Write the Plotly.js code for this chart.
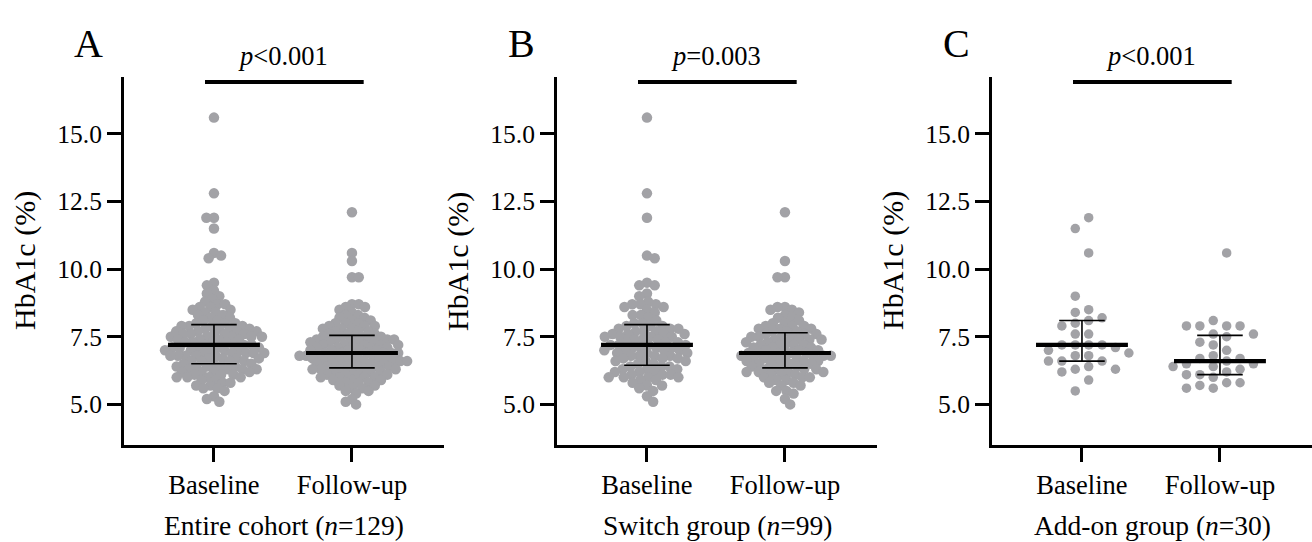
<!DOCTYPE html>
<html><head><meta charset="utf-8">
<script src="https://cdn.plot.ly/plotly-3.0.1.min.js"></script>
<style>html,body{margin:0;padding:0;background:#fff}#chart{width:1312px;height:542px}</style>
</head><body><div id="chart"></div>
<script>
// ---------- data ----------
const categories = ['Baseline', 'Follow-up'];
const panelLetters = ['A', 'B', 'C'];
const pLabels = ['<i>p</i>&lt;0.001', '<i>p</i>=0.003', '<i>p</i>&lt;0.001'];
const groupLabels = ['Entire cohort (<i>n</i>=129)', 'Switch group (<i>n</i>=99)', 'Add-on group (<i>n</i>=30)'];
const yTitle = 'HbA1c (%)';
const yTickVals = [5, 7.5, 10, 12.5, 15];
const yTickText = ['5.0', '7.5', '10.0', '12.5', '15.0'];

const aBaseline = [15.6, 12.8, 11.9, 11.9, 11.5, 10.6, 10.5, 10.4, 9.5, 9.4, 9.2, 9.1, 9.0, 8.9, 8.8, 8.7, 8.7, 8.6, 8.6, 8.5, 8.5, 8.4, 8.4, 8.3, 8.3, 8.2, 8.2, 8.1, 8.1, 8.0, 8.0, 8.0,
  7.9, 7.9, 7.9, 7.9, 7.8, 7.8, 7.8, 7.8, 7.7, 7.7, 7.7, 7.7, 7.6, 7.6, 7.6, 7.6, 7.6, 7.5, 7.5, 7.5, 7.5, 7.5, 7.4, 7.4, 7.4, 7.4, 7.3, 7.3, 7.3, 7.3, 7.2, 7.2,
  7.2, 7.2, 7.1, 7.1, 7.1, 7.1, 7.1, 7.0, 7.0, 7.0, 7.0, 7.0, 6.9, 6.9, 6.9, 6.9, 6.9, 6.8, 6.8, 6.8, 6.8, 6.8, 6.7, 6.7, 6.7, 6.7, 6.6, 6.6, 6.6, 6.6, 6.5, 6.5, 6.5,
  6.4, 6.4, 6.4, 6.4, 6.4, 6.3, 6.3, 6.3, 6.3, 6.2, 6.2, 6.2, 6.2, 6.1, 6.1, 6.1, 6.0, 6.0, 6.0, 6.0, 5.9, 5.9, 5.8, 5.8, 5.7, 5.7, 5.6, 5.6, 5.5, 5.3, 5.2, 5.1];
const aFollowup = [12.1, 10.6, 10.3, 9.7, 9.7,
  8.7, 8.7, 8.6, 8.6, 8.5, 8.4, 8.3, 8.3, 8.2, 8.2, 8.1, 8.1, 8.0, 8.0, 8.0, 7.9, 7.9, 7.9, 7.8, 7.8, 7.8, 7.7, 7.7, 7.7, 7.6, 7.6, 7.6,
  7.5, 7.5, 7.5, 7.5, 7.5, 7.4, 7.4, 7.4, 7.4, 7.4, 7.3, 7.3, 7.3, 7.3, 7.3, 7.2, 7.2, 7.2, 7.2, 7.2, 7.1, 7.1, 7.1, 7.1, 7.1, 7.0, 7.0, 7.0, 7.0, 7.0, 6.9, 6.9,
  6.9, 6.9, 6.9, 6.9, 6.8, 6.8, 6.8, 6.8, 6.8, 6.8, 6.7, 6.7, 6.7, 6.7, 6.7, 6.7, 6.6, 6.6, 6.6, 6.6, 6.6, 6.6, 6.5, 6.5, 6.5, 6.5, 6.5, 6.4, 6.4, 6.4, 6.4, 6.4,
  6.3, 6.3, 6.3, 6.3, 6.3, 6.2, 6.2, 6.2, 6.2, 6.1, 6.1, 6.1, 6.1, 6.0, 6.0, 6.0, 6.0, 5.9, 5.9, 5.9, 5.8, 5.8, 5.8, 5.7, 5.7, 5.6, 5.6, 5.5, 5.5, 5.4, 5.2, 5.1, 5.0];
const bBaseline = [15.6, 12.8, 11.9, 10.5, 10.4, 9.5, 9.4, 9.4, 9.1, 9.0,
  8.8, 8.7, 8.7, 8.7, 8.6, 8.6, 8.5, 8.4, 8.3, 8.3, 8.2, 8.1, 8.0, 8.0,
  7.9, 7.9, 7.9, 7.8, 7.8, 7.8, 7.7, 7.7, 7.7, 7.6, 7.6, 7.6, 7.6, 7.5, 7.5, 7.5, 7.5, 7.4, 7.4, 7.4, 7.3, 7.3, 7.3, 7.2, 7.2,
  7.2, 7.2, 7.1, 7.1, 7.1, 7.1, 7.0, 7.0, 7.0, 7.0, 6.9, 6.9, 6.9, 6.8, 6.8, 6.8, 6.8, 6.7, 6.7, 6.7, 6.6, 6.6, 6.6, 6.5, 6.5,
  6.4, 6.4, 6.4, 6.3, 6.3, 6.3, 6.2, 6.2, 6.2, 6.1, 6.1, 6.1, 6.0, 6.0, 6.0, 6.0, 5.9, 5.9, 5.8, 5.7, 5.7, 5.6, 5.5, 5.3, 5.1];
const bFollowup = [12.1, 10.3, 9.7, 9.7,
  8.6, 8.6, 8.5, 8.5, 8.4, 8.3, 8.2, 8.2, 8.1, 8.0, 8.0, 7.9, 7.9, 7.9, 7.8, 7.8, 7.8, 7.7, 7.7, 7.7,
  7.6, 7.6, 7.6, 7.5, 7.5, 7.5, 7.5, 7.4, 7.4, 7.4, 7.4, 7.3, 7.3, 7.3, 7.2, 7.2, 7.2, 7.2, 7.1, 7.1, 7.1, 7.0, 7.0, 7.0, 7.0,
  6.9, 6.9, 6.9, 6.9, 6.9, 6.8, 6.8, 6.8, 6.8, 6.8, 6.7, 6.7, 6.7, 6.7, 6.6, 6.6, 6.6, 6.6, 6.5, 6.5, 6.5, 6.5, 6.4, 6.4, 6.4,
  6.3, 6.3, 6.3, 6.3, 6.2, 6.2, 6.2, 6.2, 6.1, 6.1, 6.1, 6.0, 6.0, 6.0, 5.9, 5.9, 5.8, 5.8, 5.7, 5.7, 5.5, 5.5, 5.4, 5.2, 5.0];
const cBaseline = [11.9, 11.5, 10.6, 9.0, 8.5, 8.4, 8.2, 8.1, 8.0, 7.9, 7.6, 7.6, 7.2, 7.2, 7.2, 7.2, 7.1, 7.0, 6.9, 6.8, 6.8, 6.6, 6.6, 6.6, 6.4, 6.3, 6.3, 6.2, 5.9, 5.5];
const cFollowup = [10.6, 8.1, 7.9, 7.9, 7.9, 7.9, 7.6, 7.6, 7.5, 7.3, 7.2, 7.0, 6.8, 6.7, 6.7, 6.6, 6.5, 6.5, 6.4, 6.4, 6.3, 6.2, 6.1, 6.1, 6.0, 5.8, 5.8, 5.7, 5.6, 5.6];

const medians = [[7.2, 6.9], [7.2, 6.9], [7.2, 6.6]];
const q1s = [[6.5, 6.35], [6.45, 6.35], [6.6, 6.1]];
const q3s = [[7.95, 7.55], [7.95, 7.65], [8.1, 7.55]];

const panelData = [[aBaseline, aFollowup], [bBaseline, bFollowup], [cBaseline, cFollowup]];

// ---------- layout constants ----------
const W = 1312, H = 542;
const axisLeft = [124, 557, 992];
const panelW = 320;
const plotTop = 77, plotBottom = 445;
const xRange = [-0.652, 1.667];
const yRange = [3.5, 17.1];
const pxY = (plotBottom - plotTop) / (yRange[1] - yRange[0]);
const pxX = panelW / (xRange[1] - xRange[0]);
const swarmD = [[7.6, 6.8], [8.2, 7.5], [9.5, 9.5]];
const swarmSlot = [0, 0, 13.4];
const dotSize = [10.5, 10.5, 9.5];
const dotColor = '#a2a2a6';
const FONT = '"Liberation Serif", "DejaVu Serif", serif';

function swarm(values, D, slot) {
  const n = values.length;
  const order = values.map((v, i) => i).sort((a, b) => values[b] - values[a]);
  const xs = new Array(n).fill(0);
  const placed = [];
  let flip = 1;
  for (const i of order) {
    const y = values[i] * pxY;
    const near = placed.filter(p => Math.abs(p.y - y) < D);
    let cands = [];
    if (slot > 0) {
      for (let k = 0; k < 40; k++) { cands.push((k + 0.5) * slot * flip, -(k + 0.5) * slot * flip); }
    } else {
      cands.push(0);
      near.forEach(p => { const dx = Math.sqrt(D * D - (p.y - y) ** 2); cands.push(p.x + dx, p.x - dx); });
      cands.sort((a, b) => (Math.abs(a) - Math.abs(b)) || (b - a) * flip);
    }
    let best = 0;
    for (const c of cands) {
      if (near.every(p => (p.x - c) ** 2 + (p.y - y) ** 2 >= D * D - 1e-6)) { best = c; break; }
    }
    placed.push({ x: best, y: y });
    xs[i] = best / pxX;
    flip = -flip;
  }
  return xs;
}

const traces = [];
const layout = {
  width: W, height: H, margin: { l: 0, r: 0, t: 0, b: 0 },
  paper_bgcolor: '#fff', plot_bgcolor: 'rgba(0,0,0,0)', showlegend: false,
  font: { family: FONT, color: '#000' },
  annotations: [], shapes: []
};
const yDomain = [1 - plotBottom / H, 1 - plotTop / H];

for (let p = 0; p < 3; p++) {
  const sfx = p === 0 ? '' : String(p + 1);
  const xa = 'x' + sfx, ya = 'y' + sfx;
  const x0 = axisLeft[p] / W, x1 = (axisLeft[p] + panelW) / W;
  layout['xaxis' + sfx] = {
    domain: [x0, x1], range: xRange, anchor: ya, type: 'linear',
    tickvals: [0, 1], ticktext: categories, ticks: 'outside', ticklen: 14, tickwidth: 3, tickcolor: '#000',
    showline: true, linewidth: 3, linecolor: '#000', showgrid: false, zeroline: false, fixedrange: true,
    tickfont: { family: FONT, size: 26.5, color: '#000' }
  };
  layout['yaxis' + sfx] = {
    domain: yDomain, range: yRange, anchor: xa,
    tickvals: yTickVals, ticktext: yTickText, ticks: 'outside', ticklen: 14, tickwidth: 3, tickcolor: '#000',
    showline: true, linewidth: 3, linecolor: '#000', showgrid: false, zeroline: false, fixedrange: true,
    tickfont: { family: FONT, size: 25.5, color: '#000' }
  };
  for (let g = 0; g < 2; g++) {
    const vals = panelData[p][g];
    const offs = swarm(vals, swarmD[p][g], swarmSlot[p]);
    traces.push({
      type: 'scatter', mode: 'markers', xaxis: xa, yaxis: ya,
      x: vals.map((v, i) => g + offs[i]), y: vals,
      marker: { color: dotColor, size: dotSize[p], line: { width: 0 } }, hoverinfo: 'y'
    });
  }
  const mx = [], my = [], ex = [], ey = [];
  for (let g = 0; g < 2; g++) {
    mx.push(g - 0.333, g + 0.333, null); my.push(medians[p][g], medians[p][g], null);
    ex.push(g, g, null, g - 0.165, g + 0.165, null, g - 0.165, g + 0.165, null);
    ey.push(q1s[p][g], q3s[p][g], null, q3s[p][g], q3s[p][g], null, q1s[p][g], q1s[p][g], null);
  }
  traces.push({ type: 'scatter', mode: 'lines', xaxis: xa, yaxis: ya, x: ex, y: ey, line: { color: '#000', width: 1.6 }, hoverinfo: 'skip' });
  traces.push({ type: 'scatter', mode: 'lines', xaxis: xa, yaxis: ya, x: mx, y: my, line: { color: '#000', width: 4.2 }, hoverinfo: 'skip' });

  const toPx = v => axisLeft[p] + (v - xRange[0]) * pxX;
  const cx = toPx(0.5);
  layout.annotations.push(
    { text: panelLetters[p], x: (axisLeft[p] - 36) / W, y: 1 - 43 / H, xref: 'paper', yref: 'paper', showarrow: false, xanchor: 'center', yanchor: 'middle', font: { family: FONT, size: 40, color: '#000' } },
    { text: pLabels[p], x: cx / W, y: 1 - 56 / H, xref: 'paper', yref: 'paper', showarrow: false, xanchor: 'center', yanchor: 'middle', font: { family: FONT, size: 26.5, color: '#000' } },
    { text: groupLabels[p], x: (axisLeft[p] + panelW / 2) / W, y: 1 - 525 / H, xref: 'paper', yref: 'paper', showarrow: false, xanchor: 'center', yanchor: 'middle', font: { family: FONT, size: 27.5, color: '#000' } },
    { text: yTitle, x: (axisLeft[p] - 99) / W, y: 1 - ((plotTop + plotBottom) / 2) / H, xref: 'paper', yref: 'paper', showarrow: false, textangle: -90, xanchor: 'center', yanchor: 'middle', font: { family: FONT, size: 30, color: '#000' } }
  );
  layout.shapes.push({ type: 'line', xref: 'paper', yref: 'paper', x0: toPx(-0.065) / W, x1: toPx(1.085) / W, y0: 1 - 82 / H, y1: 1 - 82 / H, line: { color: '#000', width: 4 } });
}

Plotly.newPlot('chart', traces, layout, { staticPlot: true, displayModeBar: false });
</script>
</body></html>
